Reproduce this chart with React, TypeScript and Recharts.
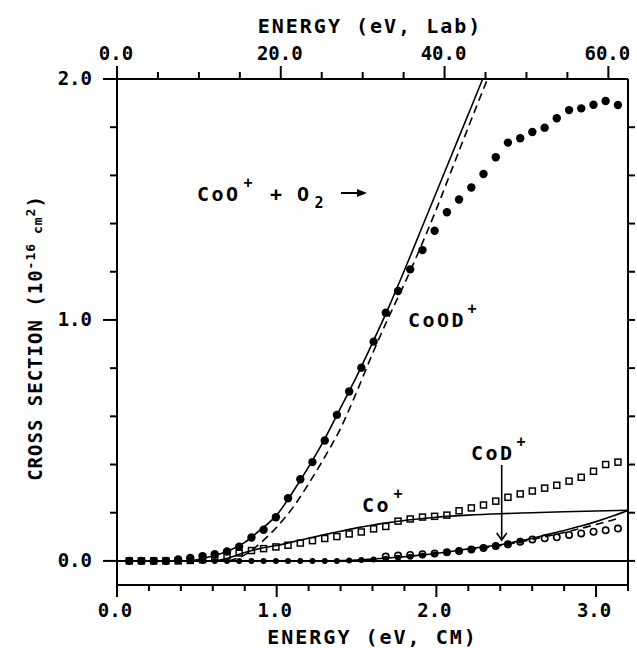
import {
  ComposedChart,
  Line,
  ReferenceLine,
  Scatter,
  XAxis,
  YAxis
} from "recharts";

// collision energies (eV, CM) of the measured points
const energy = [
  0.077, 0.153, 0.23, 0.306, 0.383, 0.459, 0.536, 0.612, 0.689, 0.765,
  0.842, 0.918, 0.995, 1.071, 1.148, 1.224, 1.301, 1.377, 1.454, 1.53,
  1.607, 1.683, 1.76, 1.836, 1.913, 1.989, 2.066, 2.142, 2.219, 2.295,
  2.372, 2.448, 2.525, 2.601, 2.678, 2.754, 2.831, 2.907, 2.984, 3.06, 3.137
];

// CoOD+ (large filled circles)
const coodValues = [
  0, 0, 0, 0, 0.006, 0.012, 0.02, 0.028, 0.039, 0.059,
  0.097, 0.129, 0.181, 0.26, 0.339, 0.41, 0.5, 0.606, 0.703, 0.802,
  0.91, 1.03, 1.12, 1.21, 1.29, 1.37, 1.447, 1.5, 1.55, 1.606,
  1.675, 1.736, 1.754, 1.78, 1.798, 1.837, 1.871, 1.878, 1.893, 1.909, 1.892
];

// Co+ (open squares)
const coValues = [
  0, 0, 0, 0, 0, 0.002, 0.005, 0.012, 0.022, 0.033,
  0.043, 0.051, 0.058, 0.065, 0.074, 0.084, 0.093, 0.101, 0.112, 0.12,
  0.133, 0.143, 0.165, 0.174, 0.182, 0.185, 0.19, 0.208, 0.22, 0.232,
  0.248, 0.264, 0.278, 0.29, 0.302, 0.314, 0.331, 0.347, 0.372, 0.4, 0.41
];

// CoD+ (small filled circles)
const codFilledValues = [
  0, 0, 0, 0, 0, 0, 0, 0, 0, 0,
  0, 0, 0, 0, 0, 0, 0, 0, 0.002, 0.004,
  0.006, 0.009, 0.013, 0.017, 0.022, 0.028, 0.036, 0.043, 0.048, 0.056,
  0.063, 0.071, 0.084, null, null, null, null, null, null, null, null
];

// CoD+ (open circles)
const codOpenValues = [
  null, null, null, null, null, null, null, null, null, null,
  null, null, null, null, null, null, null, null, null, null,
  null, 0.018, 0.022, 0.025, 0.028, 0.031, 0.036, 0.041, 0.047, 0.054,
  0.062, 0.069, 0.08, 0.089, 0.094, 0.098, 0.108, 0.114, 0.121, 0.127, 0.134
];

// model curves
const coodFitX = [0.45, 0.5, 0.6, 0.7, 0.8, 0.9, 1.0, 1.1, 1.2, 1.3, 1.4, 1.5, 1.6, 1.7, 1.8, 1.9, 2.0, 2.1, 2.2, 2.29];
const coodFitY = [0, 0.005, 0.02, 0.042, 0.077, 0.13, 0.19, 0.285, 0.39, 0.505, 0.635, 0.765, 0.905, 1.05, 1.206, 1.368, 1.53, 1.692, 1.854, 2.0];

const coodDashX = [0.7, 0.75, 0.8, 0.9, 1.0, 1.1, 1.2, 1.3, 1.4, 1.5, 1.6, 1.7, 1.8, 1.9, 2.0, 2.1, 2.2, 2.32];
const coodDashY = [0, 0.01, 0.025, 0.075, 0.14, 0.22, 0.32, 0.43, 0.55, 0.7, 0.86, 1.01, 1.15, 1.3, 1.46, 1.63, 1.8, 2.0];

const coFitX = [0.62, 0.7, 0.8, 0.9, 1.0, 1.1, 1.2, 1.3, 1.4, 1.5, 1.6, 1.7, 1.8, 1.9, 2.0, 2.2, 2.4, 2.6, 2.8, 3.0, 3.2];
const coFitY = [0, 0.012, 0.035, 0.052, 0.064, 0.079, 0.094, 0.109, 0.123, 0.137, 0.149, 0.159, 0.168, 0.175, 0.181, 0.19, 0.196, 0.2, 0.204, 0.207, 0.21];

const codFitX = [1.3, 1.5, 1.7, 1.9, 2.0, 2.1, 2.2, 2.3, 2.4, 2.5, 2.6, 2.7, 2.8, 2.9, 3.0, 3.1, 3.2];
const codFitY = [0, 0.004, 0.012, 0.024, 0.031, 0.04, 0.05, 0.059, 0.067, 0.08, 0.094, 0.11, 0.126, 0.144, 0.163, 0.185, 0.21];

const codDashX = [2.2, 2.3, 2.4, 2.5, 2.6, 2.7, 2.8, 2.9, 3.0, 3.1, 3.15];
const codDashY = [0.046, 0.054, 0.064, 0.076, 0.089, 0.103, 0.118, 0.134, 0.151, 0.169, 0.179];

// axes
const cmTicks = [0, 0.2, 0.4, 0.6, 0.8, 1.0, 1.2, 1.4, 1.6, 1.8, 2.0, 2.2, 2.4, 2.6, 2.8, 3.0, 3.2];
const cmMajor = [0, 1, 2, 3];
const labTicks = [0, 5, 10, 15, 20, 25, 30, 35, 40, 45, 50, 55, 60];
const labMajor = [0, 20, 40, 60];
const csTicks = [0, 0.2, 0.4, 0.6, 0.8, 1.0, 1.2, 1.4, 1.6, 1.8, 2.0];
const csMajor = [0, 1, 2];
const csRightTicks = [0, 0.2, 0.4, 0.6, 0.8, 1.0, 1.2, 1.4, 1.6, 1.8];

const FONT = "'DejaVu Sans Mono', monospace";
const INK = "#000";

function points(xs: number[], ys: (number | null)[]) {
  return xs
    .map((x, i) => ({ x, y: ys[i] }))
    .filter((p) => p.y !== null);
}

const coodPoints = points(energy, coodValues);
const coPoints = points(energy, coValues);
const codFilledPoints = points(energy, codFilledValues);
const codOpenPoints = points(energy, codOpenValues);

// rows that give the frame chart's axes values of their own
const axisRows = [
  ...cmTicks.map((x) => ({ x })),
  ...labTicks.map((lab) => ({ lab })),
  ...csTicks.map((y) => ({ y }))
];

const labelText = { fontFamily: FONT, fontWeight: "bold", fontSize: 19, fill: INK };

function BottomTick(props: any) {
  const { x, y, payload } = props;
  const major = cmMajor.includes(payload.value);
  return (
    <g>
      <path d={`M${x},${y}V${y + (major ? 12 : 6)}`} stroke={INK} strokeWidth={2} fill="none" />
      {major && (
        <text x={x - 2} y={y + 32} textAnchor="middle" {...labelText}>
          {payload.value.toFixed(1)}
        </text>
      )}
    </g>
  );
}

function TopTick(props: any) {
  const { x, y, payload } = props;
  const major = labMajor.includes(payload.value);
  return (
    <g>
      <path d={`M${x},${y}V${y - (major ? 13 : 7)}`} stroke={INK} strokeWidth={2} fill="none" />
      {major && (
        <text x={x - 1} y={y - 19} textAnchor="middle" {...labelText}>
          {payload.value.toFixed(1)}
        </text>
      )}
    </g>
  );
}

function LeftTick(props: any) {
  const { x, y, payload } = props;
  const major = csMajor.includes(payload.value);
  return (
    <g>
      <path d={`M${x},${y}H${x - (major ? 14 : 7)}`} stroke={INK} strokeWidth={2} fill="none" />
      {major && (
        <text x={x - 25} y={y + 6} textAnchor="end" {...labelText}>
          {payload.value.toFixed(1)}
        </text>
      )}
    </g>
  );
}

function RightTick(props: any) {
  const { x, y } = props;
  return <path d={`M${x},${y}H${x + 7}`} stroke={INK} strokeWidth={2} fill="none" />;
}

const filledBig = (p: any) => <circle cx={p.cx} cy={p.cy} r={4.2} fill={INK} />;
const filledSmall = (p: any) => <circle cx={p.cx} cy={p.cy} r={3} fill={INK} />;
const openCircle = (p: any) => (
  <circle cx={p.cx} cy={p.cy} r={3.2} fill="none" stroke={INK} strokeWidth={1.6} />
);
const openSquare = (p: any) => (
  <rect x={p.cx - 3} y={p.cy - 3} width={6} height={6} fill="none" stroke={INK} strokeWidth={1.5} />
);

const textProps = { fontFamily: FONT, fontWeight: "bold", fill: INK };

const titleStyle: any = {
  position: "absolute",
  fontFamily: FONT,
  fontWeight: "bold",
  fontSize: 20,
  letterSpacing: 2,
  lineHeight: "20px",
  whiteSpace: "nowrap",
  color: INK
};

const layer: any = { position: "absolute", left: 0, top: 0 };

// annotations drawn over the chart
function Annotations() {
  return (
    <svg width={637} height={648} style={{ ...layer, pointerEvents: "none" }}>
      <g>
        <text x={197} y={201} fontSize={20} letterSpacing={2.5} {...textProps}>CoO</text>
        <text x={248} y={188} fontSize={15} textAnchor="middle" {...textProps}>+</text>
        <text x={276} y={201} fontSize={20} textAnchor="middle" {...textProps}>+</text>
        <text x={297} y={201} fontSize={20} {...textProps}>O</text>
        <text x={319} y={208} fontSize={15} textAnchor="middle" {...textProps}>2</text>
        <line x1={341} y1={193} x2={359} y2={193} stroke={INK} strokeWidth={2} />
        <path d="M357,189 L367,193 L357,197 Z" fill={INK} />
      </g>
      <text x={408} y={327} fontSize={20} letterSpacing={2.5} {...textProps}>CoOD</text>
      <text x={472} y={314} fontSize={15} textAnchor="middle" {...textProps}>+</text>
      <text x={362} y={512} fontSize={20} letterSpacing={2.5} {...textProps}>Co</text>
      <text x={398} y={499} fontSize={15} textAnchor="middle" {...textProps}>+</text>
      <text x={471} y={460} fontSize={20} letterSpacing={2.5} {...textProps}>CoD</text>
      <text x={521} y={447} fontSize={15} textAnchor="middle" {...textProps}>+</text>
      <line x1={501.7} y1={465} x2={501.7} y2={540} stroke={INK} strokeWidth={1.6} />
      <path d="M496.7,533 L501.7,540 L506.7,533" fill="none" stroke={INK} strokeWidth={1.6} />
    </svg>
  );
}

// data layer: curves and measured points
function DataChart() {
  return (
    <ComposedChart width={637} height={648} margin={{ top: 79, right: 9, bottom: 0, left: 0 }}>
      <XAxis xAxisId="cm" dataKey="x" type="number" domain={[0, 3.2]} allowDataOverflow
        height={63} tick={false} tickLine={false} axisLine={false} />
      <YAxis yAxisId="cs" dataKey="y" type="number" domain={[-0.1, 2]} allowDataOverflow
        width={117} tick={false} tickLine={false} axisLine={false} />

      <Line xAxisId="cm" yAxisId="cs" data={points(coodFitX, coodFitY)} dataKey="y" type="monotone"
        stroke={INK} strokeWidth={1.6} dot={false} isAnimationActive={false} />
      <Line xAxisId="cm" yAxisId="cs" data={points(coodDashX, coodDashY)} dataKey="y" type="monotone"
        stroke={INK} strokeWidth={1.6} strokeDasharray="8 5" dot={false} isAnimationActive={false} />
      <Line xAxisId="cm" yAxisId="cs" data={points(coFitX, coFitY)} dataKey="y" type="monotone"
        stroke={INK} strokeWidth={1.6} dot={false} isAnimationActive={false} />
      <Line xAxisId="cm" yAxisId="cs" data={points(codFitX, codFitY)} dataKey="y" type="monotone"
        stroke={INK} strokeWidth={1.6} dot={false} isAnimationActive={false} />
      <Line xAxisId="cm" yAxisId="cs" data={points(codDashX, codDashY)} dataKey="y" type="monotone"
        stroke={INK} strokeWidth={1.6} strokeDasharray="8 5" dot={false} isAnimationActive={false} />

      <Scatter xAxisId="cm" yAxisId="cs" data={coPoints} dataKey="y" shape={openSquare} isAnimationActive={false} />
      <Scatter xAxisId="cm" yAxisId="cs" data={codOpenPoints} dataKey="y" shape={openCircle} isAnimationActive={false} />
      <Scatter xAxisId="cm" yAxisId="cs" data={codFilledPoints} dataKey="y" shape={filledSmall} isAnimationActive={false} />
      <Scatter xAxisId="cm" yAxisId="cs" data={coodPoints} dataKey="y" shape={filledBig} isAnimationActive={false} />
    </ComposedChart>
  );
}

// frame layer: the four axes with their ticks, and the zero line
function FrameChart() {
  return (
    <ComposedChart width={637} height={648} data={axisRows} margin={{ top: 0, right: 0, bottom: 0, left: 0 }}>
      <XAxis xAxisId="cm" dataKey="x" type="number" domain={[0, 3.2]} ticks={cmTicks} interval={0}
        allowDataOverflow height={63} tickSize={0} tickMargin={0} tickLine={false}
        tick={<BottomTick />} axisLine={{ stroke: INK, strokeWidth: 2 }} />
      <XAxis xAxisId="lab" dataKey="lab" orientation="top" type="number" domain={[0, 62.4]} ticks={labTicks}
        interval={0} allowDataOverflow height={79} tickSize={0} tickMargin={0} tickLine={false}
        tick={<TopTick />} axisLine={{ stroke: INK, strokeWidth: 2 }} />
      <YAxis yAxisId="cs" dataKey="y" type="number" domain={[-0.1, 2]} ticks={csTicks} interval={0}
        allowDataOverflow width={117} tickSize={0} tickMargin={0} tickLine={false}
        tick={<LeftTick />} axisLine={{ stroke: INK, strokeWidth: 2 }} />
      <YAxis yAxisId="csr" orientation="right" type="number" domain={[-0.1, 2]} ticks={csRightTicks}
        interval={0} allowDataOverflow width={9} tickSize={0} tickMargin={0} tickLine={false}
        tick={<RightTick />} axisLine={{ stroke: INK, strokeWidth: 2 }} />
      <ReferenceLine xAxisId="cm" yAxisId="cs" y={0} stroke={INK} strokeWidth={2} />
    </ComposedChart>
  );
}

export default function App() {
  return (
    <div style={{ ...layer, width: 637, height: 648, background: "#fff" }}>
      <div style={layer}>
        <DataChart />
      </div>
      <div style={layer}>
        <FrameChart />
      </div>

      <Annotations />

      {/* axis titles */}
      <div style={{ ...titleStyle, left: 0, width: 740, top: 16, textAlign: "center" }}>ENERGY (eV, Lab)</div>
      <div style={{ ...titleStyle, left: 0, width: 745, top: 627, textAlign: "center" }}>ENERGY (eV, CM)</div>
      <div
        style={{
          ...titleStyle,
          fontSize: 19,
          letterSpacing: 1,
          left: 36,
          top: 338,
          transform: "translate(-50%, -50%) rotate(-90deg)"
        }}
      >
        CROSS SECTION (10
        <sup style={{ fontSize: 13, verticalAlign: "7px", lineHeight: 0 }}>-16</sup>
        <span style={{ fontSize: 13 }}> cm</span>
        <sup style={{ fontSize: 13, verticalAlign: "7px", lineHeight: 0 }}>2</sup>)
      </div>
    </div>
  );
}
